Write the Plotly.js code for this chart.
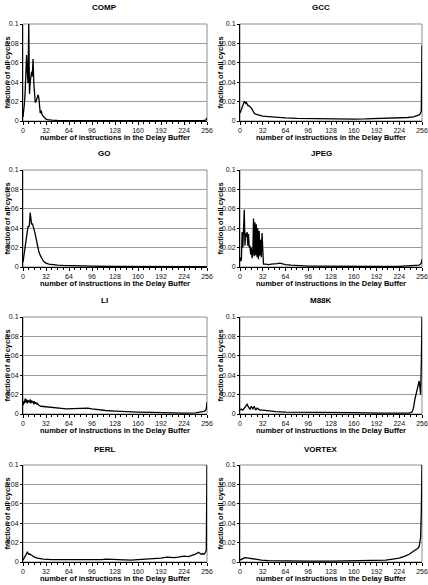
<!DOCTYPE html>
<html>
<head>
<meta charset="utf-8">
<script src="https://cdn.plot.ly/plotly-3.0.1.min.js"></script>
<style>
  html, body { margin: 0; padding: 0; background: #fff; }
  #chart { width: 428px; height: 585px; }
</style>
</head>
<body>
<div id="chart"></div>
<script>
// Delay Buffer occupancy histograms, one panel per benchmark
const benchmarks = ["COMP", "GCC", "GO", "JPEG", "LI", "M88K", "PERL", "VORTEX"];
const xTicks = [0, 32, 64, 96, 128, 160, 192, 224, 256];

const compX = [0,1,2,3,4,5,6,7,8,9,10,11,12,13,14,15,16,17,18,19,20,21,22,23,24,25,26,27,28,29,30,32,34,36,40,48,64,96,128,160,192,224,250,254,255,256];
const compY = [0.004,0.01,0.018,0.03,0.05,0.068,0.05,0.039,0.1,0.028,0.04,0.05,0.051,0.046,0.064,0.04,0.025,0.019,0.02,0.022,0.025,0.027,0.024,0.01,0.008,0.011,0.007,0.006,0.005,0.004,0.003,0.002,0.0015,0.001,0.0008,0.0006,0.0005,0.0004,0.0004,0.0003,0.0003,0.0003,0.0003,0.0008,0.002,0.003];

const gccX = [0,1,2,3,4,5,6,7,8,9,10,11,12,13,14,15,16,17,18,19,20,22,24,28,32,40,48,64,80,96,112,128,144,160,176,192,208,224,236,244,248,251,253,254,255,256];
const gccY = [0.008,0.01,0.012,0.015,0.017,0.019,0.02,0.0195,0.018,0.019,0.017,0.016,0.016,0.015,0.0145,0.014,0.0135,0.012,0.01,0.009,0.008,0.007,0.0065,0.0058,0.005,0.0045,0.004,0.0033,0.0028,0.0025,0.0022,0.002,0.002,0.002,0.0021,0.0023,0.0026,0.003,0.0036,0.0042,0.005,0.006,0.007,0.008,0.01,0.078];

const goX = [0,1,2,3,4,5,6,7,8,9,10,11,12,13,14,15,16,17,18,19,20,22,24,26,28,30,32,36,40,48,56,64,80,96,128,160,192,224,256];
const goY = [0.005,0.01,0.016,0.022,0.028,0.033,0.038,0.042,0.041,0.044,0.056,0.048,0.044,0.045,0.043,0.04,0.037,0.034,0.03,0.026,0.022,0.016,0.012,0.009,0.0065,0.005,0.004,0.003,0.0025,0.002,0.0016,0.0013,0.001,0.0008,0.0005,0.0004,0.0003,0.0003,0.0003];

const jpegX = [0,1,2,3,4,5,6,7,8,9,10,11,12,13,14,15,16,17,18,19,20,21,22,23,24,25,26,27,28,29,30,31,32,33,36,40,44,48,52,56,60,64,72,80,96,112,128,160,192,224,240,248,252,254,255,256];
const jpegY = [0.01,0.006,0.008,0.036,0.02,0.038,0.059,0.022,0.035,0.031,0.036,0.022,0.034,0.02,0.022,0.013,0.02,0.009,0.014,0.05,0.011,0.046,0.012,0.044,0.01,0.04,0.008,0.037,0.012,0.028,0.01,0.035,0.006,0.003,0.003,0.0025,0.003,0.003,0.0035,0.004,0.003,0.0025,0.002,0.0015,0.001,0.0008,0.0006,0.0005,0.0005,0.0006,0.001,0.0015,0.002,0.003,0.004,0.008];

const liX = [0,1,2,3,4,5,6,7,8,9,10,11,12,13,14,15,16,17,18,19,20,22,25,30,35,40,50,60,70,80,90,96,105,115,128,140,160,180,200,224,240,248,253,255,256];
const liY = [0.009,0.013,0.011,0.016,0.012,0.015,0.011,0.014,0.013,0.012,0.015,0.011,0.014,0.012,0.013,0.01,0.013,0.011,0.012,0.01,0.011,0.009,0.008,0.0075,0.007,0.0068,0.006,0.0052,0.0055,0.006,0.006,0.0052,0.0042,0.0036,0.003,0.0025,0.002,0.0016,0.0012,0.001,0.0012,0.002,0.003,0.005,0.012];

const m88kX = [0,2,4,6,8,10,12,14,16,18,20,22,24,28,32,40,50,64,96,128,160,200,238,242,244,246,248,250,252,253,254,255,256];
const m88kY = [0.004,0.005,0.004,0.006,0.008,0.01,0.007,0.005,0.008,0.005,0.008,0.004,0.006,0.004,0.004,0.003,0.0025,0.002,0.002,0.002,0.0015,0.001,0.0008,0.002,0.006,0.015,0.022,0.03,0.034,0.028,0.02,0.05,0.1];

const perlX = [0,3,6,8,10,12,16,20,28,40,50,64,72,96,110,115,128,150,160,180,192,200,210,216,224,230,236,240,244,248,250,252,254,255,256];
const perlY = [0.002,0.006,0.01,0.008,0.008,0.007,0.005,0.004,0.003,0.0025,0.0025,0.002,0.0025,0.002,0.0025,0.003,0.0025,0.002,0.0025,0.003,0.004,0.005,0.0045,0.005,0.006,0.0055,0.007,0.008,0.01,0.008,0.0085,0.008,0.01,0.012,0.1];

const vortexX = [0,3,7,12,16,22,30,40,64,96,128,160,192,205,215,224,232,238,244,250,252,254,255,256];
const vortexY = [0.002,0.003,0.0045,0.004,0.0035,0.0035,0.002,0.0015,0.001,0.001,0.001,0.0012,0.0015,0.002,0.003,0.004,0.006,0.008,0.011,0.014,0.016,0.025,0.05,0.1];

const seriesX = [compX, gccX, goX, jpegX, liX, m88kX, perlX, vortexX];
const seriesY = [compY, gccY, goY, jpegY, liY, m88kY, perlY, vortexY];

// page geometry (px)
const W = 428, H = 585;
const colLeft = [23, 240], colRight = [207, 422];
const colTitleX = [104, 321], colYTitleX = [7, 220];
const rowTop = [24, 170, 317, 465], plotH = 97;

const FONT = "Liberation Sans, Arial, sans-serif";
const px = v => v / W;
const py = v => 1 - v / H;

const data = [];
const layout = {
  width: W, height: H,
  margin: {l: 0, r: 0, t: 0, b: 0},
  paper_bgcolor: "#fff", plot_bgcolor: "#fff",
  showlegend: false,
  font: {family: FONT, size: 7, color: "#111"},
  annotations: [], shapes: []
};

benchmarks.forEach((name, i) => {
  const col = i % 2, row = Math.floor(i / 2);
  const n = i + 1;
  const xa = "xaxis" + (n === 1 ? "" : n), ya = "yaxis" + (n === 1 ? "" : n);
  const xr = "x" + (n === 1 ? "" : n), yr = "y" + (n === 1 ? "" : n);
  const top = rowTop[row], bot = top + plotH;

  data.push({
    x: seriesX[i], y: seriesY[i], xaxis: xr, yaxis: yr,
    type: "scatter", mode: "lines",
    line: {color: "#000", width: 1.3}
  });

  layout[xa] = {
    domain: [px(colLeft[col]), px(colRight[col])],
    anchor: yr, range: [0, 256], tickvals: xTicks,
    showgrid: false, zeroline: false,
    showline: true, linecolor: "#000", linewidth: 1,
    ticks: "outside", ticklen: 3, tickcolor: "#000", tickwidth: 1,
    minor: {dtick: 8, tick0: 0, ticks: "outside", ticklen: 2, tickcolor: "#000", showgrid: false},
    tickfont: {size: 7, family: FONT, color: "#111"}, fixedrange: true
  };
  layout[ya] = {
    domain: [py(bot), py(top)],
    anchor: xr, range: [0, 0.1], dtick: 0.02,
    showgrid: true, gridcolor: "#9a9a9a", gridwidth: 1, zeroline: false,
    showline: true, linecolor: "#000", linewidth: 1,
    ticks: "outside", ticklen: 2, tickcolor: "#000",
    tickfont: {size: 7, family: FONT, color: "#111"}, fixedrange: true
  };

  // plot-area frame
  layout.shapes.push({
    type: "rect", xref: xr + " domain", yref: yr + " domain",
    x0: 0, x1: 1, y0: 0, y1: 1, layer: "below",
    line: {color: "#8c8c8c", width: 1}
  });

  // panel title
  layout.annotations.push({
    text: "<b>" + name + "</b>", xref: "paper", yref: "paper",
    x: px(colTitleX[col]), y: py(top - 16), showarrow: false,
    xanchor: "center", yanchor: "middle",
    font: {size: 8, family: FONT, color: "#000"}
  });
  // x-axis title
  layout.annotations.push({
    text: "<b>number of instructions in the Delay Buffer</b>", xref: "paper", yref: "paper",
    x: px((colLeft[col] + colRight[col]) / 2), y: py(bot + 16), showarrow: false,
    xanchor: "center", yanchor: "middle",
    font: {size: 7.5, family: FONT, color: "#000"}
  });
  // y-axis title
  layout.annotations.push({
    text: "<b>fraction of all cycles</b>", xref: "paper", yref: "paper",
    x: px(colYTitleX[col]), y: py(top + plotH / 2), showarrow: false,
    xanchor: "center", yanchor: "middle", textangle: -90,
    font: {size: 7.5, family: FONT, color: "#000"}
  });
});

Plotly.newPlot("chart", data, layout, {staticPlot: true, displayModeBar: false});
</script>
</body>
</html>
